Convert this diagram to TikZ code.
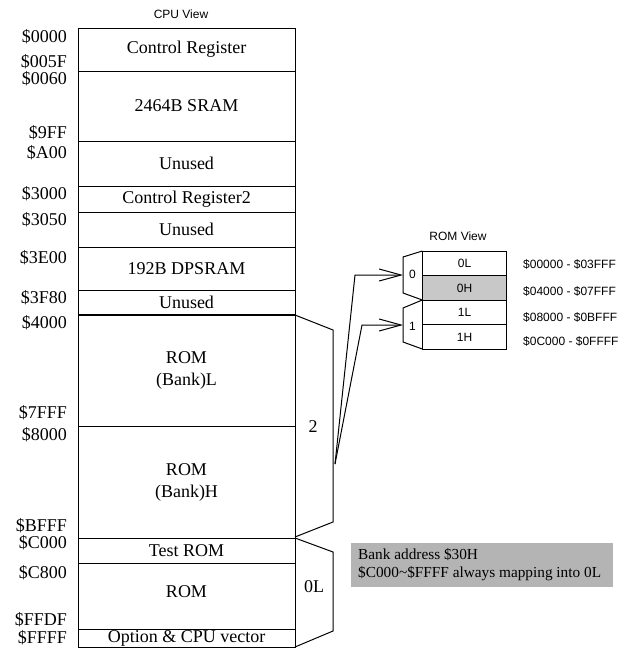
\documentclass[tikz,border=0pt]{standalone}
\usepackage{fontspec}
\setmainfont{Liberation Serif}
\setsansfont{Liberation Sans}
\usetikzlibrary{arrows.meta}
\definecolor{notegray}{RGB}{180,180,180}
\definecolor{cellgray}{RGB}{200,200,200}
\tikzset{
  membox/.style={draw, line width=1pt, minimum width=217pt, inner sep=0pt, align=center, font=\fontsize{18}{22}\selectfont},
  addr/.style={anchor=east, inner sep=0pt, font=\fontsize{18}{20}\selectfont},
  bigtxt/.style={inner sep=0pt, font=\fontsize{18}{20}\selectfont},
  smalltxt/.style={inner sep=0pt, font=\sffamily\fontsize{12}{14}\selectfont},
  romcell/.style={draw, line width=1pt, minimum width=84.5pt, minimum height=24.5pt, inner sep=0pt, font=\sffamily\fontsize{12}{14}\selectfont},
  bracket/.style={line width=1pt, line join=miter},
  arr/.style={line width=1pt, -{Straight Barb[length=22pt, width=12pt, line width=1pt]}},
}
\begin{document}
\begin{tikzpicture}[x=1pt, y=-1pt]
\useasboundingbox (0,0) rectangle (635,648);
% titles
\node[smalltxt] (cputitle) at (181,14) {CPU View};
\node[smalltxt] (romtitle) at (458,236) {ROM View};
% CPU memory map
\node[membox, minimum height=43pt] (b1) at (186.5,49.5) {Control Register};
\node[membox, minimum height=70pt] (b2) at (186.5,106) {2464B SRAM};
\node[membox, minimum height=45pt] (b3) at (186.5,163.5) {Unused};
\node[membox, minimum height=26pt] (b4) at (186.5,199) {Control Register2};
\node[membox, minimum height=35pt] (b5) at (186.5,229.5) {Unused};
\node[membox, minimum height=43pt] (b6) at (186.5,268.5) {192B DPSRAM};
\node[membox, minimum height=24pt] (b7) at (186.5,302) {Unused};
\node[membox, minimum height=112pt] (b8) at (186.5,370) {ROM\\(Bank)L};
\node[membox, minimum height=112pt] (b9) at (186.5,482) {ROM\\(Bank)H};
\node[membox, minimum height=25pt] (b10) at (186.5,550.5) {Test ROM};
\node[draw, line width=1pt, minimum width=217pt, minimum height=66pt, inner sep=0pt] (b11) at (186.5,596) {};
\node[bigtxt] (b11t) at (186.5,592) {ROM};
\node[membox, minimum height=18pt] (b12) at (186.5,638) {Option \& CPU vector};
\draw[line width=2pt] (b7.south west) -- (b7.south east);
% address labels
\node[addr] (a1) at (67,37) {\$0000};
\node[addr] (a2) at (67,62) {\$005F};
\node[addr] (a3) at (67,79) {\$0060};
\node[addr] (a4) at (67,133) {\$9FF};
\node[addr] (a5) at (67,153) {\$A00};
\node[addr] (a6) at (67,194) {\$3000};
\node[addr] (a7) at (67,220) {\$3050};
\node[addr] (a8) at (67,258) {\$3E00};
\node[addr] (a9) at (67,298) {\$3F80};
\node[addr] (a10) at (67,323) {\$4000};
\node[addr] (a11) at (67,413) {\$7FFF};
\node[addr] (a12) at (67,435) {\$8000};
\node[addr] (a13) at (67,526) {\$BFFF};
\node[addr] (a14) at (67,543) {\$C000};
\node[addr] (a15) at (67,573) {\$C800};
\node[addr] (a16) at (67,620) {\$FFDF};
\node[addr] (a17) at (67,638) {\$FFFF};
% brackets
\draw[bracket] (295,315) -- (333,330) -- (333,522) -- (295,537);
\draw[bracket] (295,538) -- (333,552) -- (333,631) -- (295,647);
\node[bigtxt] (lbl2) at (313,427) {2};
\node[bigtxt] (lbl0L) at (314,587) {0L};
% ROM view
\node[romcell] (r0L) at (464.5,263.3) {0L};
\node[romcell, fill=cellgray] (r0H) at (464.5,287.9) {0H};
\node[romcell] (r1L) at (464.5,312.5) {1L};
\node[romcell] (r1H) at (464.5,337) {1H};
\node[smalltxt, anchor=west] (ra1) at (523,264) {\$00000 - \$03FFF};
\node[smalltxt, anchor=west] (ra2) at (523,291) {\$04000 - \$07FFF};
\node[smalltxt, anchor=west] (ra3) at (523,317) {\$08000 - \$0BFFF};
\node[smalltxt, anchor=west] (ra4) at (523,341) {\$0C000 - \$0FFFF};
% selectors
\draw[bracket] (422.3,251) -- (403,257) -- (403,293) -- (422.3,300);
\draw[bracket] (422.3,300) -- (403,308) -- (403,342) -- (422.3,349);
\node[smalltxt] (m0) at (412.5,274) {0};
\node[smalltxt] (m1) at (412.5,326) {1};
\coordinate (m0in) at (403,275);
\coordinate (m1in) at (403,325);
\coordinate (src) at (335,464);
\draw[arr] (src) -- (355,275) -- (m0in);
\draw[arr] (src) -- (362,325) -- (m1in);
% note
\node[fill=notegray, minimum width=262pt, minimum height=44pt, inner sep=0pt] (note) at (481.7,564.7) {};
\node[anchor=west, inner sep=0pt, align=left, font=\fontsize{15.3}{17.7}\selectfont] (notetext) at (358,564.5) {Bank address \$30H\\\$C000\char`~\$FFFF always mapping into 0L};
\end{tikzpicture}
\end{document}
